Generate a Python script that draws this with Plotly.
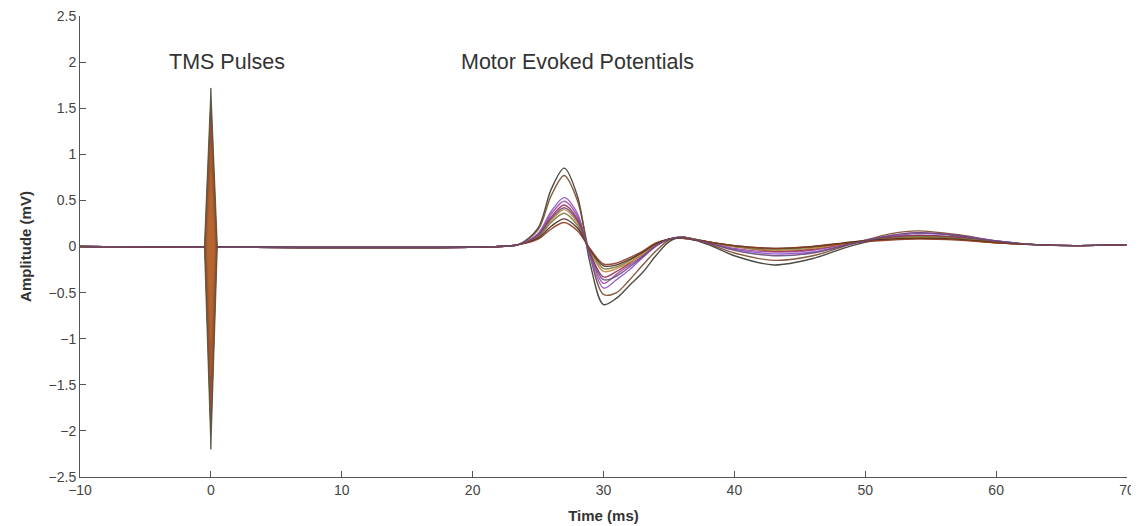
import plotly.graph_objects as go

# ---------------- data ----------------
# TMS pulse artefacts (one per sweep): positive / negative peak (mV), half-width (ms)
pulse_pos_peaks = [1.72, 1.55, 1.35, 1.10, 0.80]
pulse_neg_peaks = [-2.20, -2.00, -1.75, -1.40, -1.00]
pulse_halfwidths = [0.50, 0.45, 0.40, 0.34, 0.28]
pulse_colors = ["#4e4a3e", "#6e5438", "#945230", "#a9592b", "#b5652f"]

# MEP sweeps: sample times (ms) and amplitudes (mV)
mep_times = [-10, 22, 23.5, 25, 26, 27, 28, 29, 30, 31, 32, 33, 34, 35, 36,
             38, 40, 43, 46, 49, 52, 54, 57, 60, 63, 66, 70]

sweep_a = [0, 0, 0.02, 0.20, 0.62, 0.85, 0.55, -0.20, -0.63, -0.56, -0.42, -0.28, -0.10, 0.05, 0.10,
           0.02, -0.10, -0.20, -0.13, 0.01, 0.10, 0.12, 0.10, 0.05, 0.02, 0.01, 0.02]
sweep_b = [0, 0, 0.02, 0.18, 0.55, 0.77, 0.50, -0.12, -0.52, -0.50, -0.36, -0.20, -0.05, 0.07, 0.10,
           0.03, -0.07, -0.15, -0.10, 0.03, 0.14, 0.17, 0.13, 0.06, 0.02, 0.01, 0.02]
sweep_c = [0, 0, 0.02, 0.14, 0.38, 0.53, 0.36, -0.12, -0.45, -0.36, -0.25, -0.12, 0.00, 0.08, 0.10,
           0.04, -0.03, -0.08, -0.06, 0.03, 0.11, 0.14, 0.12, 0.06, 0.02, 0.01, 0.02]
sweep_d = [0, 0, 0.02, 0.13, 0.35, 0.49, 0.33, -0.10, -0.40, -0.30, -0.20, -0.10, 0.01, 0.08, 0.10,
           0.04, -0.02, -0.06, -0.04, 0.04, 0.12, 0.15, 0.12, 0.06, 0.02, 0.01, 0.02]
sweep_e = [0, 0, 0.02, 0.12, 0.32, 0.45, 0.30, -0.08, -0.33, -0.27, -0.18, -0.08, 0.02, 0.08, 0.10,
           0.05, 0.00, -0.05, -0.03, 0.04, 0.10, 0.12, 0.10, 0.05, 0.02, 0.01, 0.02]
sweep_f = [0, 0, 0.02, 0.11, 0.28, 0.40, 0.26, -0.06, -0.27, -0.24, -0.17, -0.08, 0.02, 0.08, 0.10,
           0.05, 0.00, -0.04, -0.02, 0.04, 0.08, 0.10, 0.08, 0.04, 0.02, 0.01, 0.02]
sweep_g = [0, 0, 0.02, 0.10, 0.26, 0.36, 0.23, -0.05, -0.24, -0.22, -0.15, -0.06, 0.03, 0.08, 0.10,
           0.05, 0.00, -0.03, -0.01, 0.05, 0.09, 0.11, 0.09, 0.05, 0.02, 0.01, 0.02]
sweep_h = [0, 0, 0.02, 0.09, 0.22, 0.30, 0.20, -0.04, -0.21, -0.20, -0.14, -0.06, 0.03, 0.08, 0.09,
           0.05, 0.01, -0.02, 0.00, 0.05, 0.08, 0.09, 0.08, 0.04, 0.02, 0.01, 0.02]
sweep_i = [0, 0, 0.02, 0.08, 0.19, 0.26, 0.17, -0.03, -0.19, -0.18, -0.12, -0.05, 0.04, 0.08, 0.09,
           0.05, 0.01, -0.02, 0.00, 0.04, 0.07, 0.08, 0.07, 0.04, 0.02, 0.01, 0.02]
sweep_j = [0, 0, 0.02, 0.12, 0.30, 0.42, 0.28, -0.08, -0.36, -0.32, -0.22, -0.11, 0.01, 0.08, 0.10,
           0.04, -0.04, -0.10, -0.07, 0.03, 0.12, 0.15, 0.12, 0.06, 0.02, 0.01, 0.02]

mep_sweeps = [sweep_a, sweep_b, sweep_c, sweep_d, sweep_e, sweep_f, sweep_g, sweep_h, sweep_i, sweep_j]
mep_colors = ["#3a3a32", "#7a4a2a", "#8a55c8", "#a04aa0", "#9a2e55", "#c08a3a",
              "#7a7a40", "#4a2a1a", "#8a3a20", "#6a4a7a"]

x_ticks = [-10, 0, 10, 20, 30, 40, 50, 60, 70]
y_ticks = [-2.5, -2, -1.5, -1, -0.5, 0, 0.5, 1, 1.5, 2, 2.5]

annotations_text = ["TMS Pulses", "Motor Evoked Potentials"]
annotations_x = [1.2, 28.0]
annotations_y = [2.0, 2.0]

FONT = "Liberation Sans, Arial, Helvetica, sans-serif"

# ---------------- figure ----------------
fig = go.Figure()

# MEP sweeps
for ys, col in zip(mep_sweeps, mep_colors):
    fig.add_trace(go.Scatter(x=mep_times, y=ys, mode="lines",
                             line=dict(color=col, width=1.4, shape="spline", smoothing=0.9),
                             opacity=0.9, showlegend=False, hoverinfo="skip"))

# TMS pulse spindles
for pp, pn, hw, col in zip(pulse_pos_peaks, pulse_neg_peaks, pulse_halfwidths, pulse_colors):
    fig.add_trace(go.Scatter(x=[-hw, 0, hw, 0, -hw], y=[0, pp, 0, pn, 0],
                             mode="lines", fill="toself", fillcolor=col,
                             line=dict(color=col, width=0.8),
                             showlegend=False, hoverinfo="skip"))

for txt, ax_, ay_ in zip(annotations_text, annotations_x, annotations_y):
    fig.add_annotation(x=ax_, y=ay_, text=txt, showarrow=False,
                       font=dict(family=FONT, size=21.5, color="#333333"),
                       xanchor="center", yanchor="middle")

axis_common = dict(showline=True, linecolor="#555555", linewidth=1, mirror=False,
                   ticks="inside", ticklen=6, tickcolor="#555555", showgrid=False, zeroline=False,
                   automargin=False, ticklabeloverflow="allow",
                   tickfont=dict(family=FONT, size=14, color="#444444"))

fig.update_xaxes(range=[-10, 70], tickvals=x_ticks,
                 title=dict(text="<b>Time (ms)</b>", standoff=13,
                            font=dict(family=FONT, size=15, color="#333333")),
                 **axis_common)
fig.update_yaxes(range=[-2.5, 2.5], tickvals=y_ticks,
                 title=dict(text="<b>Amplitude (mV)</b>", standoff=13,
                            font=dict(family=FONT, size=15, color="#333333")),
                 **axis_common)

# page body adds an 8px offset, so the figure is sized to fit the 1139x526 window
fig.update_layout(width=1131, height=518,
                  margin=dict(l=72, r=12, t=8, b=49),
                  plot_bgcolor="white", paper_bgcolor="white")

fig.write_html("out.html")
